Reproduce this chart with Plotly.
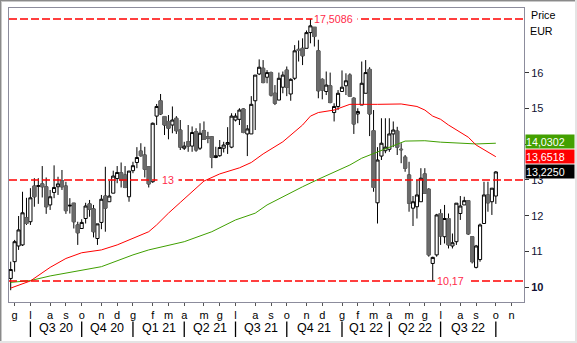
import pandas as pd
import plotly.graph_objects as go

# ---------------- data (weekly candles) ----------------
first_week = "2020-05-29"
opens = [10.24, 10.71, 11.15, 11.18, 11.94, 11.83, 12.83, 12.82, 12.89, 12.81,
         12.30, 12.65, 12.81, 12.98, 12.83, 12.27, 12.35, 11.74, 11.64, 11.92,
         12.33, 12.19, 11.36, 11.81, 12.55, 12.39, 12.63, 13.04, 13.20, 13.14,
         12.53, 13.26, 13.49, 13.81, 13.70, 13.37, 12.95, 14.79, 15.22, 14.78,
         14.64, 14.54, 14.73, 14.40, 13.89, 14.07, 13.95, 14.35, 13.89, 14.38,
         14.21, 14.21, 13.63, 13.68, 13.89, 14.00, 13.92, 14.68, 14.70, 14.99,
         14.29, 14.29, 15.22, 15.97, 16.13, 15.88, 16.01, 15.43, 15.24, 15.60,
         16.08, 15.41, 15.85, 16.66, 16.69, 16.69, 17.13, 17.30, 16.62, 15.82,
         15.48, 15.64, 14.89, 15.06, 15.48, 15.64, 15.94, 15.29, 14.85, 15.10,
         15.43, 16.10, 14.38, 12.36, 13.67, 13.82, 13.86, 14.29, 14.37, 13.86,
         13.64, 13.14, 12.21, 12.25, 12.39, 13.17, 12.74, 10.66, 10.90, 12.06,
         11.41, 11.92, 11.15, 11.27, 12.06, 12.30, 12.42, 11.41, 10.55, 10.77,
         11.78, 12.58, 12.39, 12.55]
highs = [10.71, 11.32, 11.99, 12.67, 12.50, 12.77, 13.05, 13.05, 13.39, 13.07,
         12.72, 13.41, 13.09, 13.28, 12.95, 12.49, 12.35, 11.83, 11.90, 12.36,
         12.44, 12.30, 11.77, 12.58, 13.37, 12.98, 13.26, 13.39, 13.49, 13.39,
         13.25, 13.51, 13.92, 14.03, 13.93, 13.37, 14.61, 15.13, 15.41, 14.78,
         14.82, 15.06, 14.79, 14.68, 14.07, 14.54, 14.50, 14.45, 14.59, 14.64,
         14.35, 14.23, 13.93, 14.12, 14.07, 14.48, 14.87, 14.87, 15.01, 15.01,
         14.54, 15.35, 15.94, 16.38, 16.36, 16.08, 16.04, 15.66, 16.01, 16.04,
         16.18, 15.85, 16.78, 16.91, 16.97, 17.19, 17.5086, 17.35, 16.93, 15.85,
         16.04, 16.01, 15.15, 15.52, 16.07, 15.99, 15.99, 15.32, 15.01, 16.32,
         16.36, 16.16, 14.96, 13.92, 14.73, 14.73, 14.73, 14.64, 14.49, 14.03,
         13.70, 13.51, 12.55, 13.00, 13.33, 13.33, 12.77, 10.85, 12.05, 12.18,
         12.30, 12.06, 11.50, 12.35, 12.55, 12.53, 12.42, 11.41, 11.18, 11.78,
         12.95, 12.95, 12.77, 13.25]
lows = [9.91, 10.43, 11.04, 11.15, 11.74, 11.74, 12.25, 12.33, 12.51, 12.05,
        12.16, 12.49, 12.58, 12.72, 12.05, 12.06, 11.64, 11.18, 11.64, 11.78,
        11.97, 11.39, 11.18, 11.62, 11.55, 12.39, 12.63, 12.91, 12.79, 12.77,
        12.39, 13.19, 13.33, 13.65, 13.07, 12.79, 12.92, 14.54, 14.82, 14.26,
        14.14, 14.31, 14.29, 13.84, 13.84, 13.79, 13.79, 13.79, 13.84, 14.14,
        14.03, 13.33, 13.61, 13.65, 13.77, 13.73, 13.89, 14.64, 14.54, 14.31,
        13.67, 14.29, 14.40, 15.94, 15.71, 15.71, 15.34, 15.10, 15.24, 15.43,
        15.35, 15.22, 15.80, 16.32, 16.22, 16.69, 16.83, 16.74, 15.29, 15.26,
        15.38, 15.15, 14.64, 14.96, 15.48, 15.38, 15.35, 14.29, 14.59, 15.10,
        15.43, 14.23, 12.67, 11.78, 13.56, 13.75, 13.79, 13.92, 13.70, 13.47,
        13.23, 12.11, 11.71, 11.92, 12.39, 12.63, 10.85, 10.17, 10.85, 11.18,
        11.22, 11.08, 11.08, 11.18, 11.88, 12.30, 11.46, 10.66, 10.52, 10.71,
        11.78, 12.11, 12.02, 12.33]
closes = [10.49, 11.27, 11.60, 12.08, 11.78, 12.50, 12.53, 12.84, 12.81, 12.25,
          12.53, 12.79, 12.89, 12.81, 12.14, 12.29, 11.83, 11.52, 11.81, 12.27,
          12.18, 11.55, 11.77, 12.46, 12.21, 12.55, 13.11, 13.21, 13.00, 12.79,
          13.25, 13.40, 13.63, 13.68, 13.30, 12.89, 14.59, 15.06, 14.85, 14.54,
          14.45, 14.68, 14.38, 13.92, 13.95, 13.95, 14.33, 13.84, 14.31, 14.14,
          14.17, 13.63, 13.68, 13.91, 13.98, 14.05, 14.79, 14.79, 14.96, 14.33,
          14.43, 15.12, 15.94, 16.16, 15.73, 16.01, 15.38, 15.15, 15.85, 15.94,
          15.60, 15.82, 16.62, 16.63, 16.48, 17.13, 17.32, 17.02, 15.50, 15.52,
          15.66, 15.17, 15.06, 15.43, 15.60, 15.78, 15.35, 14.57, 14.92, 15.71,
          16.01, 14.85, 12.79, 13.56, 14.03, 13.92, 14.29, 14.40, 13.92, 13.85,
          13.33, 12.35, 12.39, 12.58, 13.05, 12.63, 10.90, 10.83, 12.02, 11.43,
          11.92, 11.18, 11.24, 12.35, 12.27, 12.42, 11.49, 10.71, 11.15, 11.74,
          12.58, 12.36, 12.77, 13.225]

# moving averages, sampled at candle indices
red_ma_idx = [0, 5, 10, 14, 18, 23, 27, 31, 35, 37, 40, 43, 46, 49, 53, 58, 61,
              64, 69, 74, 76, 78, 82, 86, 93, 99, 103, 105, 107, 109, 111, 113,
              116, 118, 120, 123]
red_ma = [9.97, 10.17, 10.55, 10.80, 10.96, 11.04, 11.18, 11.36, 11.55, 11.74,
          12.07, 12.37, 12.67, 12.97, 13.17, 13.34, 13.49, 13.73, 14.07, 14.54,
          14.79, 14.89, 14.96, 15.12, 15.12, 15.13, 15.06, 14.96, 14.79, 14.70,
          14.54, 14.40, 14.20, 13.98, 13.84, 13.6518]
green_ma_idx = [0, 5, 10, 18, 23, 31, 35, 44, 48, 51, 57, 62, 65, 69, 74, 78, 82,
                86, 89, 93, 96, 100, 105, 109, 118, 123]
green_ma = [10.13, 10.18, 10.31, 10.48, 10.57, 10.90, 11.04, 11.27, 11.43, 11.55,
            11.88, 12.07, 12.30, 12.53, 12.81, 13.02, 13.23, 13.42, 13.61, 13.79,
            13.92, 14.09, 14.10, 14.06, 14.01, 14.0302]

level_high = 17.5086
level_mid = 13
level_low = 10.17
level_high_idx = 76
level_mid_idx = 40
level_low_idx = 107

y_ticks = [10, 11, 12, 13, 14, 15, 16]
y_hidden = [14]          # label covered by the green tag in the original
month_letters = {1: "g", 2: "f", 3: "m", 4: "a", 5: "m", 6: "g",
                 7: "l", 8: "a", 9: "s", 10: "o", 11: "n", 12: "d"}
month_span = ("2020-06-01", "2022-11-01")
x_range = ["2020-05-26", "2022-11-26"]

# ---------------- figure ----------------
W, H = 577, 343
ML, MR, MT, MB = 9, 53, 8, 41
PW, PH = W - ML - MR, H - MT - MB
FONT = "Liberation Sans, Arial, sans-serif"


def px_x(px):
    return (px - ML) / PW


def px_y(py):
    return (H - MB - py) / PH


dates = pd.date_range(first_week, periods=len(closes), freq="7D")

fig = go.Figure()

# all candles: black wicks/outlines
fig.add_trace(go.Candlestick(
    x=dates, open=opens, high=highs, low=lows, close=closes,
    increasing=dict(line=dict(color="black", width=1), fillcolor="white"),
    decreasing=dict(line=dict(color="black", width=1), fillcolor="#6b6b6b"),
    whiskerwidth=0, hoverinfo="skip", showlegend=False))

# gray bodies without black outline for falling candles
dn = [i for i in range(len(closes)) if closes[i] < opens[i]]
fig.add_trace(go.Candlestick(
    x=[dates[i] for i in dn],
    open=[opens[i] for i in dn], close=[closes[i] for i in dn],
    high=[opens[i] for i in dn], low=[closes[i] for i in dn],
    increasing=dict(line=dict(color="#6b6b6b", width=1), fillcolor="#6b6b6b"),
    decreasing=dict(line=dict(color="#6b6b6b", width=1), fillcolor="#6b6b6b"),
    whiskerwidth=0, hoverinfo="skip", showlegend=False))

fig.add_trace(go.Scatter(x=[dates[i] for i in green_ma_idx], y=green_ma,
                         mode="lines", line=dict(color="#3f9f00", width=1),
                         hoverinfo="skip", showlegend=False))
fig.add_trace(go.Scatter(x=[dates[i] for i in red_ma_idx], y=red_ma,
                         mode="lines", line=dict(color="#ff0000", width=1),
                         hoverinfo="skip", showlegend=False))

shapes = []
for lv in (level_high, level_mid, level_low):
    shapes.append(dict(type="line", xref="paper", yref="y", x0=0, x1=1, y0=lv, y1=lv,
                       line=dict(color="#ff0000", width=1.5, dash="8px,3px"),
                       layer="above"))

# month ticks (first weekly candle of each month)
fri = pd.offsets.Week(weekday=4)
months = pd.date_range(month_span[0], month_span[1], freq="MS")
tick_dates = [fri.rollforward(m) for m in months]
tick_text = [month_letters[m.month] for m in months]

annotations = []
# quarter separators and labels
q_dates = [(d, m) for d, m in zip(tick_dates, months) if m.month in (1, 4, 7, 10)]
for k, (d, m) in enumerate(q_dates):
    shapes.append(dict(type="line", xref="x", yref="paper", x0=d, x1=d,
                       y0=px_y(321.5), y1=px_y(337), line=dict(color="black", width=1.3)))
    if k + 1 < len(q_dates):
        d2 = q_dates[k + 1][0]
        mid = d + (d2 - d) / 2
        q = (m.month - 1) // 3 + 1
        annotations.append(dict(x=mid, xref="x", y=px_y(328), yref="paper",
                                text=f"Q{q} {m.year % 100:02d}", showarrow=False,
                                font=dict(family=FONT, size=12.5, color="black"),
                                xanchor="center", yanchor="middle"))


def fmt(v, nd):
    return f"{v:.{nd}f}".replace(".", ",")


# level labels
annotations.append(dict(x=dates[level_high_idx], y=level_high, xref="x", yref="y",
                        text=fmt(level_high, 4) + " ", showarrow=False, xanchor="left",
                        xshift=2, bgcolor="white", borderpad=1,
                        font=dict(family=FONT, size=10.7, color="#ff2a4a")))
annotations.append(dict(x=dates[level_mid_idx], y=level_mid, xref="x", yref="y",
                        text=" " + str(level_mid) + " ", showarrow=False, xanchor="center",
                        bgcolor="white", borderpad=1,
                        font=dict(family=FONT, size=10.7, color="#ff2a4a")))
annotations.append(dict(x=dates[level_low_idx], y=level_low, xref="x", yref="y",
                        text=fmt(level_low, 2) + " ", showarrow=False, xanchor="left",
                        xshift=2, bgcolor="white", borderpad=1,
                        font=dict(family=FONT, size=10.7, color="#ff2a4a")))

# right-side value tags
tags = [(green_ma[-1], "#43a000", 2), (red_ma[-1], "#ff0000", 0), (closes[-1], "#000000", 0)]
for val, col, ysh in tags:
    annotations.append(dict(x=1, xref="paper", y=val, yref="y", yshift=ysh,
                            text=fmt(val, 4), showarrow=False, xanchor="left",
                            yanchor="middle", align="left", width=48, height=13,
                            bgcolor=col, borderpad=0, xshift=1,
                            font=dict(family=FONT, size=10.7, color="white")))

annotations.append(dict(x=1, xref="paper", y=px_y(15), yref="paper", text="Price",
                        showarrow=False, xanchor="left", yanchor="middle", xshift=5,
                        font=dict(family=FONT, size=10.7, color="black")))
annotations.append(dict(x=1, xref="paper", y=px_y(31), yref="paper", text="EUR",
                        showarrow=False, xanchor="left", yanchor="middle", xshift=4,
                        font=dict(family=FONT, size=10.7, color="black")))

# window frame
shapes.append(dict(type="line", xref="paper", yref="paper", x0=px_x(0), x1=px_x(W),
                   y0=px_y(0.5), y1=px_y(0.5), line=dict(color="#8a8a8a", width=1)))
shapes.append(dict(type="line", xref="paper", yref="paper", x0=px_x(0.5), x1=px_x(0.5),
                   y0=px_y(0), y1=px_y(H), line=dict(color="#8a8a8a", width=1)))
shapes.append(dict(type="line", xref="paper", yref="paper", x0=px_x(1), x1=px_x(W),
                   y0=px_y(1.5), y1=px_y(1.5), line=dict(color="#c8c8c8", width=1)))
shapes.append(dict(type="line", xref="paper", yref="paper", x0=px_x(1.5), x1=px_x(1.5),
                   y0=px_y(1), y1=px_y(H), line=dict(color="#c8c8c8", width=1)))
shapes.append(dict(type="line", xref="paper", yref="paper", x0=px_x(0), x1=px_x(W),
                   y0=px_y(H - 1), y1=px_y(H - 1), line=dict(color="#e4e4e4", width=2)))
shapes.append(dict(type="line", xref="paper", yref="paper", x0=px_x(W - 1), x1=px_x(W - 1),
                   y0=px_y(0), y1=px_y(H), line=dict(color="#e4e4e4", width=2)))


def ytxt(v):
    if v in y_hidden:
        return ""
    if v == min(y_ticks):
        return f"<b>{v}</b>"
    return str(v)


y_text = [ytxt(v) for v in y_ticks]

fig.update_layout(
    width=W, height=H,
    margin=dict(l=ML, r=MR, t=MT, b=MB, pad=0),
    paper_bgcolor="white", plot_bgcolor="white",
    showlegend=False, boxgap=0.2, boxgroupgap=0,
    font=dict(family=FONT, size=10.7, color="black"),
    shapes=shapes, annotations=annotations,
    xaxis=dict(type="date", range=x_range, rangeslider=dict(visible=False),
               tickmode="array", tickvals=tick_dates, ticktext=tick_text,
               ticks="outside", ticklen=3, tickcolor="#555555", tickwidth=1,
               showgrid=False, zeroline=False, showline=True, mirror=True,
               linecolor="#8c8c9c", linewidth=1,
               tickfont=dict(family=FONT, size=11, color="black"), fixedrange=True),
    yaxis=dict(side="right", range=[9.58, 17.82], tickmode="array",
               tickvals=y_ticks, ticktext=y_text, ticks="outside", ticklen=4,
               tickcolor="#333333", showgrid=False, zeroline=False, showline=True,
               mirror=True, linecolor="#8c8c9c", linewidth=1,
               tickfont=dict(family=FONT, size=11, color="#111133"), fixedrange=True),
)

fig.write_html("out.html", config={"displayModeBar": False})
